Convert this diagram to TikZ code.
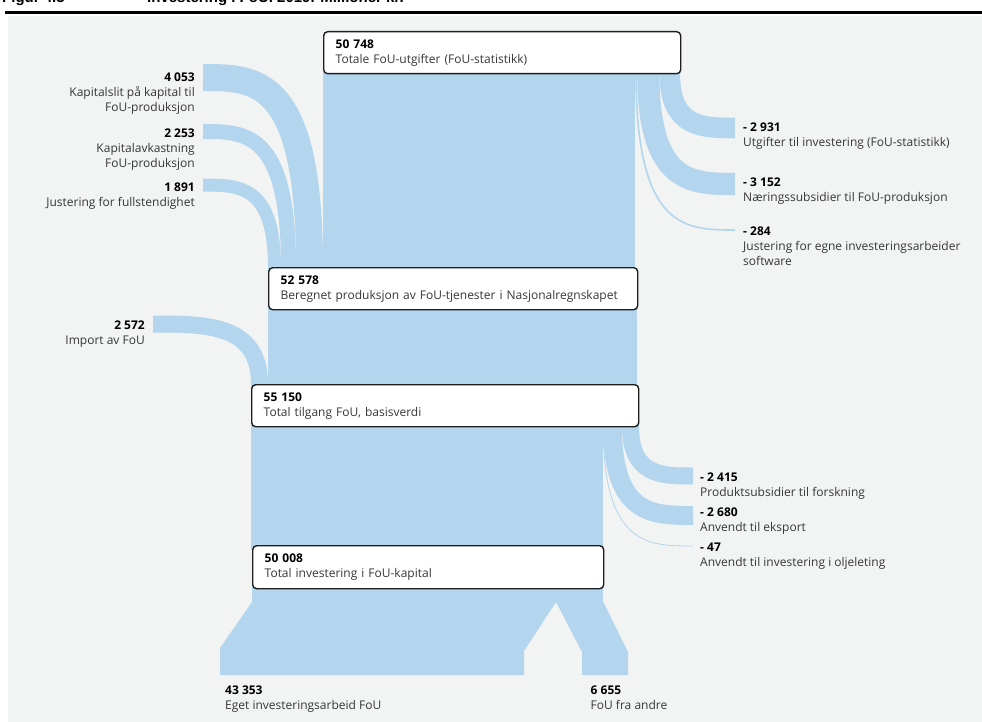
\documentclass[tikz,border=0pt]{standalone}
\usepackage{fontspec}
\setmainfont{Open Sans}
\newfontfamily\titlefont{Liberation Sans}
\newcommand\lblfont{\fontsize{12}{15}\selectfont}
\definecolor{flowblue}{RGB}{179,213,238}
\definecolor{panel}{RGB}{242,243,243}
\definecolor{txtgray}{RGB}{55,55,55}
\definecolor{boxline}{RGB}{30,30,30}
\begin{document}
\begin{tikzpicture}[x=1pt,y=-1pt,
  flow/.style={draw=flowblue, line cap=butt},
  lbl/.style={inner sep=0pt, text=txtgray, font=\lblfont},
  fbox/.style={draw=boxline, line width=1.4pt, rounded corners=4pt, fill=white,
    inner xsep=12pt, inner ysep=0pt, align=left, text=txtgray, font=\lblfont,
    anchor=north west, minimum height=42pt}]
\useasboundingbox (0,0) rectangle (982,722);
\fill[white] (0,0) rectangle (982,722);
\fill[panel] (8,16) rectangle (982,722);
\fill[black] (5,11) rectangle (982,14);
% clipped title
\begin{scope}
\clip (0,0) rectangle (982,10);
\node[inner sep=0pt, anchor=base west, font=\titlefont\bfseries\fontsize{15}{15}\selectfont] (t1) at (2,2.5) {Figur 4.3};
\node[inner sep=0pt, anchor=base west, font=\titlefont\bfseries\fontsize{15}{15}\selectfont] (t2) at (147,2.5) {Investering i FoU. 2019. Millioner kr.};
\end{scope}
% main columns
\fill[flowblue] (323,60) rectangle (635,272);
\fill[flowblue] (268,305) rectangle (637,390);
\fill[flowblue] (251,420) rectangle (602.8,550);
\fill[flowblue] (252,585) -- (602.8,585) -- (602.8,601) -- (628,652) -- (628,675) -- (582,675) -- (582,652)
  -- (556,602) -- (524,651) -- (524,675) -- (220,675) -- (220,648) -- (252,602) -- cycle;
% left inflows
\coordinate (s4053) at (203,77.5);  \coordinate (e4053) at (309.5,267);
\coordinate (s2253) at (203,131.5); \coordinate (e2253) at (288.5,267);
\coordinate (s1891) at (203,185);   \coordinate (e1891) at (274.5,267);
\coordinate (s2572) at (153,324);   \coordinate (e2572) at (259.5,384);
\draw[flow, line width=27pt] (s4053) .. controls (256.25,77.5) and (309.5,77.5) .. (e4053) -- ++(0,6);
\draw[flow, line width=15pt] (s2253) .. controls (245.75,131.5) and (288.5,131.5) .. (e2253) -- ++(0,6);
\draw[flow, line width=13pt] (s1891) .. controls (238.75,185) and (274.5,185) .. (e1891) -- ++(0,6);
\draw[flow, line width=17pt] (s2572) .. controls (206.25,324) and (259.5,324) .. (e2572) -- ++(0,6);
% right outflows (box 1)
\coordinate (s2931) at (669.7,73); \coordinate (e2931) at (735,128);
\coordinate (s3152) at (648.3,73); \coordinate (e3152) at (735,184);
\coordinate (s284) at (636,73);    \coordinate (e284) at (735,230);
\draw[flow, line width=20.6pt] (669.7,64) -- (s2931) .. controls (669.7,128) and (702.35,128) .. (e2931);
\draw[flow, line width=22.2pt] (648.3,64) -- (s3152) .. controls (648.3,184) and (691.65,184) .. (e3152);
\draw[flow, line width=1.6pt] (636,64) -- (s284) .. controls (636,230) and (685.5,230) .. (e284);
% right outflows (box 3)
\coordinate (s2415) at (630.5,426); \coordinate (e2415) at (693,476);
\coordinate (s2680) at (612.5,426); \coordinate (e2680) at (693,515.5);
\coordinate (s47) at (603.2,426);   \coordinate (e47) at (693,546);
\draw[flow, line width=17pt] (630.5,418) -- (s2415) .. controls (630.5,476) and (661.75,476) .. (e2415);
\draw[flow, line width=18.9pt] (612.5,418) -- (s2680) .. controls (612.5,515.5) and (652.75,515.5) .. (e2680);
\draw[flow, line width=0.8pt] (603.2,418) -- (s47) .. controls (603.2,546) and (648,546) .. (e47);
% boxes
\node[fbox, text width=333pt] (b1) at (323,31) {{\bfseries\color{black}50 748}\\Totale FoU-utgifter (FoU-statistikk)};
\node[fbox, text width=345pt] (b2) at (268,267) {{\bfseries\color{black}52 578}\\Beregnet produksjon av FoU-tjenester i Nasjonalregnskapet};
\node[fbox, text width=363pt] (b3) at (251,384) {{\bfseries\color{black}55 150}\\Total tilgang FoU, basisverdi};
\node[fbox, text width=327pt, minimum height=43pt] (b4) at (252,545) {{\bfseries\color{black}50 008}\\Total investering i FoU-kapital};
% left labels
\node[lbl, anchor=north east, align=right] (l4053) at (195,72.7) {{\bfseries\color{black}4 053}\\Kapitalslit på kapital til\\FoU-produksjon};
\node[lbl, anchor=north east, align=right] (l2253) at (195,128.7) {{\bfseries\color{black}2 253}\\Kapitalavkastning\\FoU-produksjon};
\node[lbl, anchor=north east, align=right] (l1891) at (195,182.7) {{\bfseries\color{black}1 891}\\Justering for fullstendighet};
\node[lbl, anchor=north east, align=right] (l2572) at (145,320.7) {{\bfseries\color{black}2 572}\\Import av FoU};
% right labels
\node[lbl, anchor=north west, align=left] (l2931) at (743,122.7) {{\bfseries\color{black}- 2 931}\\Utgifter til investering (FoU-statistikk)};
\node[lbl, anchor=north west, align=left] (l3152) at (743,177.7) {{\bfseries\color{black}- 3 152}\\Næringssubsidier til FoU-produksjon};
\node[lbl, anchor=north west, align=left] (l284) at (743,226.7) {{\bfseries\color{black}- 284}\\Justering for egne investeringsarbeider\\software};
\node[lbl, anchor=north west, align=left] (l2415) at (700,472.7) {{\bfseries\color{black}- 2 415}\\Produktsubsidier til forskning};
\node[lbl, anchor=north west, align=left] (l2680) at (700,507.7) {{\bfseries\color{black}- 2 680}\\Anvendt til eksport};
\node[lbl, anchor=north west, align=left] (l47) at (700,542.7) {{\bfseries\color{black}- 47}\\Anvendt til investering i oljeleting};
% bottom labels
\node[lbl, anchor=north west, align=left] (l43353) at (225,685.7) {{\bfseries\color{black}43 353}\\Eget investeringsarbeid FoU};
\node[lbl, anchor=north west, align=left] (l6655) at (590.5,685.7) {{\bfseries\color{black}6 655}\\FoU fra andre};
\end{tikzpicture}
\end{document}
